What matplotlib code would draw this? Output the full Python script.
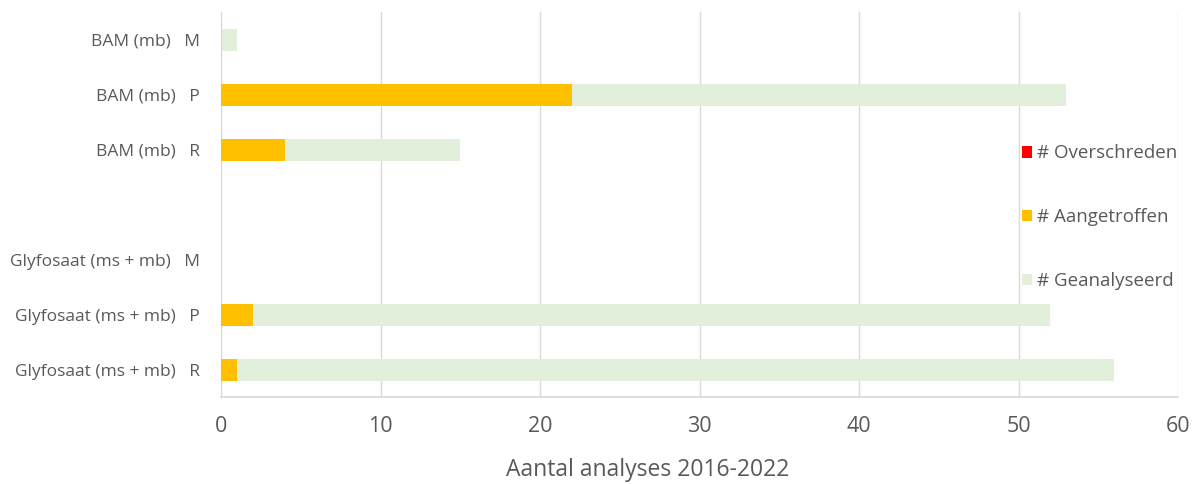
import matplotlib
matplotlib.use("Agg")
import matplotlib.pyplot as plt
import numpy as np

plt.rcParams['font.family'] = ['Open Sans', 'DejaVu Sans']

# Rows top to bottom ("" is a spacer row between the two substances)
labels = ["BAM (mb)   M", "BAM (mb)   P", "BAM (mb)   R", "",
          "Glyfosaat (ms + mb)   M", "Glyfosaat (ms + mb)   P", "Glyfosaat (ms + mb)   R"]
geanalyseerd = [1, 53, 15, 0, 0, 52, 56]
aangetroffen = [0, 22, 4, 0, 0, 2, 1]
overschreden = [0, 0, 0, 0, 0, 0, 0]

c_green = "#E2EFDA"
c_orange = "#FFC000"
c_red = "#FF0000"
c_text = "#595959"
c_grid = "#D9D9D9"

fig = plt.figure(figsize=(12, 4.84), dpi=100)
ax = fig.add_axes([221/1200, 1 - 397/484, (1178-221)/1200, (397-12)/484])

y = np.arange(len(labels))
h = 0.4
b_gea = ax.barh(y, geanalyseerd, height=h, color=c_green, label="# Geanalyseerd", zorder=2)
b_aan = ax.barh(y, aangetroffen, height=h, color=c_orange, label="# Aangetroffen", zorder=3)
b_ovr = ax.barh(y, overschreden, height=h, color=c_red, label="# Overschreden", zorder=4)

ax.set_ylim(len(labels) - 0.5, -0.5)
ax.set_xlim(0, 60)
ax.set_xticks(np.arange(0, 61, 10))
ax.set_yticks(y)
ax.set_yticklabels(labels, fontsize=12.5, color=c_text)
ax.tick_params(axis='x', labelsize=15.5, colors=c_text, length=0, pad=14)
ax.tick_params(axis='y', length=0, pad=15)
ax.grid(axis='x', color=c_grid, linewidth=1, zorder=0)
ax.set_axisbelow(True)
for s in ("top", "right"):
    ax.spines[s].set_visible(False)
ax.spines["left"].set_color(c_grid)
ax.spines["bottom"].set_color(c_grid)
ax.spines["bottom"].set_linewidth(1.2)
ax.set_xlabel("Aantal analyses 2016-2022", fontsize=16.5, color=c_text)
ax.xaxis.set_label_coords((648-221)/(1178-221), -(470-397)/(397-12), transform=ax.transAxes)
ax.xaxis.label.set_va("center")

leg = ax.legend(handles=[b_ovr, b_aan, b_gea], loc="upper left",
                bbox_to_anchor=((1014-221)/(1178-221), (397-137)/(397-12)),
                frameon=False, fontsize=13.5, labelcolor=c_text,
                handlelength=0.55, handleheight=0.55, handletextpad=0.3,
                labelspacing=2.45, borderaxespad=0)

fig.savefig("out.png", dpi=100)
